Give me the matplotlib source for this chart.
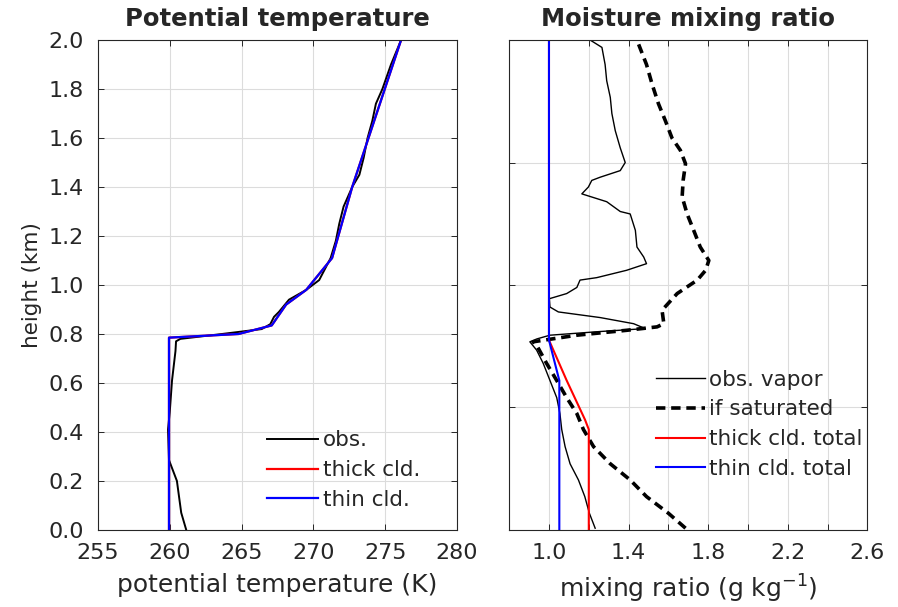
import numpy as np
import matplotlib.pyplot as plt

# potential temperature (K) vs height (km)
z_obs   = [0.0, 0.07, 0.2, 0.285, 0.41, 0.48, 0.61, 0.73, 0.77, 0.78, 0.80, 0.82, 0.84, 0.87, 0.89,
           0.94, 0.98, 1.02, 1.11, 1.18, 1.25, 1.32, 1.36, 1.40, 1.45, 1.52, 1.60, 1.67, 1.74,
           1.80, 1.90, 2.0]
th_obs  = [261.15, 260.8, 260.5, 259.95, 259.88, 260.0, 260.16, 260.4, 260.44, 260.74, 263.65, 266.4,
           267.0, 267.26, 267.6, 268.3, 269.5, 270.4, 271.2, 271.56, 271.8, 272.1, 272.4, 272.7,
           273.2, 273.5, 273.77, 274.1, 274.35, 274.8, 275.4, 276.1]
z_mod   = [0.0, 0.785, 0.80, 0.835, 0.92, 0.98, 1.11, 1.40, 2.0]
th_mod  = [259.95, 259.95, 264.8, 267.1, 268.1, 269.5, 271.3, 272.7, 276.1]

# mixing ratio (g/kg) vs height (km)
z_vap  = [0.007, 0.068, 0.136, 0.204, 0.27, 0.34, 0.41, 0.475, 0.54, 0.61, 0.68, 0.734, 0.768,
          0.78, 0.795, 0.81, 0.822, 0.842, 0.867, 0.89, 0.91, 0.944, 0.965, 0.99, 1.02, 1.03,
          1.06, 1.087, 1.114, 1.155, 1.223, 1.29, 1.30, 1.34, 1.372, 1.40, 1.427, 1.44, 1.467,
          1.50, 1.56, 1.63, 1.70, 1.766, 1.834, 1.90, 1.97, 2.0]
q_vap  = [1.232, 1.203, 1.18, 1.148, 1.106, 1.081, 1.064, 1.055, 1.039, 1.005, 0.971, 0.938, 0.904,
          0.94, 1.005, 1.257, 1.484, 1.425, 1.257, 1.047, 1.005, 1.002, 1.089, 1.14, 1.156, 1.24,
          1.39, 1.49, 1.476, 1.442, 1.434, 1.408, 1.358, 1.29, 1.165, 1.198, 1.215, 1.257, 1.358,
          1.383, 1.358, 1.333, 1.316, 1.308, 1.29, 1.282, 1.266, 1.207]
z_sat  = [0.007, 0.068, 0.136, 0.204, 0.27, 0.34, 0.41, 0.475, 0.54, 0.61, 0.68, 0.754, 0.768,
          0.795, 0.815, 0.829, 0.842, 0.897, 0.965, 1.02, 1.06, 1.10, 1.155, 1.223, 1.29, 1.36,
          1.427, 1.495, 1.55, 1.60, 1.67, 1.74, 1.82, 1.90, 2.0]
q_sat  = [1.686, 1.60, 1.49, 1.408, 1.308, 1.224, 1.173, 1.14, 1.089, 1.039, 0.988, 0.938, 0.92,
          1.14, 1.39, 1.543, 1.577, 1.568, 1.644, 1.745, 1.787, 1.803, 1.76, 1.727, 1.694, 1.669,
          1.674, 1.686, 1.66, 1.618, 1.585, 1.55, 1.518, 1.49, 1.442]
z_thick = [0.0, 0.41, 0.45, 0.61, 0.775, 2.0]
q_thick = [1.2, 1.2, 1.181, 1.089, 1.0, 1.0]
z_thin  = [0.0, 0.61, 0.775, 2.0]
q_thin  = [1.052, 1.052, 1.0, 1.0]

plt.rcParams['font.family'] = 'DejaVu Sans'
plt.rcParams['text.color'] = '#262626'
plt.rcParams['axes.labelcolor'] = '#262626'
plt.rcParams['xtick.color'] = '#262626'
plt.rcParams['ytick.color'] = '#262626'
plt.rcParams['xtick.direction'] = 'in'
plt.rcParams['ytick.direction'] = 'in'

fig = plt.figure( figsize = ( 8.98, 6.07 ), dpi = 100 )
ax1 = fig.add_axes( [ 0.109, 0.127, 0.400, 0.807 ] )
ax2 = fig.add_axes( [ 0.567, 0.127, 0.399, 0.807 ] )

for ax in ( ax1, ax2 ):
	ax.grid( True, color = '#dcdcdc', linewidth = 0.8 )
	ax.set_axisbelow( True )
	for s in ax.spines.values():
		s.set_color( '#262626' )
		s.set_linewidth( 0.8 )
	ax.tick_params( top = True, right = True, length = 4, width = 0.7, labelsize = 16 )
	ax.tick_params( axis = 'x', pad = 9.5 )
	ax.tick_params( axis = 'y', pad = 10 )
	ax.set_ylim( 0, 2 )

leg_kw = dict( loc = 'upper left', frameon = False, handletextpad = 0.2, borderpad = 0,
	borderaxespad = 0, labelspacing = 0.45, fontsize = 15.5 )

# left panel
ax1.plot( th_obs, z_obs, color = 'k', lw = 1.4, label = 'obs.' )
ax1.plot( th_mod, z_mod, color = 'r', lw = 1.6, label = 'thick cld.' )
ax1.plot( th_mod, z_mod, color = 'b', lw = 1.6, label = 'thin cld.' )
ax1.set_xlim( 255, 280 )
ax1.set_xticks( np.arange( 255, 281, 5 ) )
ax1.set_yticks( np.arange( 0, 2.01, 0.2 ) )
ax1.set_yticklabels( [ '%.1f' % v for v in np.arange( 0, 2.01, 0.2 ) ] )
ax1.set_xlabel( 'potential temperature (K)', fontsize = 18, labelpad = 7 )
ax1.set_ylabel( 'height (km)', fontsize = 15.5, labelpad = 5 )
ax1.set_title( 'Potential temperature', fontweight = 'bold', fontsize = 17.5, pad = 10 )
ax1.legend( bbox_to_anchor = ( 0.47, 0.203 ), handlelength = 2.4, **leg_kw )

# right panel
ax2.plot( q_vap, z_vap, color = 'k', lw = 1.0, label = 'obs. vapor' )
ax2.plot( q_sat, z_sat, color = 'k', lw = 2.6, ls = ( 0, ( 2.6, 1.6 ) ), label = 'if saturated' )
ax2.plot( q_thick, z_thick, color = 'r', lw = 1.5, label = 'thick cld. total' )
ax2.plot( q_thin, z_thin, color = 'b', lw = 1.5, label = 'thin cld. total' )
ax2.set_xlim( 0.8, 2.6 )
xt = np.arange( 0.8, 2.61, 0.2 )
ax2.set_xticks( xt )
ax2.set_xticklabels( [ '%.1f' % v if i % 2 == 1 else '' for i, v in enumerate( xt ) ] )
ax2.set_yticks( np.arange( 0, 2.01, 0.5 ) )
ax2.set_yticklabels( [] )
ax2.set_xlabel( 'mixing ratio (g kg$^{-1}$)', fontsize = 18, labelpad = 7 )
ax2.set_title( 'Moisture mixing ratio', fontweight = 'bold', fontsize = 17.5, pad = 10 )
ax2.legend( bbox_to_anchor = ( 0.41, 0.327 ), handlelength = 2.25, **leg_kw )

plt.savefig( 'out.png', dpi = 100 )
